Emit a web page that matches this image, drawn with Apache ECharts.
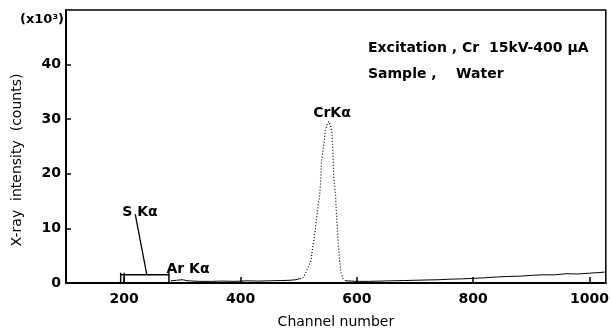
<!DOCTYPE html>
<html lang="en" style="height: 100%">
<head>
  <meta charset="utf-8">
</head>
<body style="height: 100%; margin: 0; background: #fff;">
  <div id="container" style="width: 612px; height: 334px;"></div>
  <script type="text/javascript" src="https://cdn.jsdelivr.net/npm/echarts@6/dist/echarts.min.js"></script>
  <script type="text/javascript">
    // channel numbers and counts (x10^3)
    var bgLeftCh = [280, 290, 300, 310, 330, 350, 370, 390, 410, 430, 450, 470, 485, 495, 502];
    var bgLeftCt = [0.4, 0.5, 0.6, 0.4, 0.3, 0.3, 0.35, 0.3, 0.4, 0.35, 0.4, 0.45, 0.5, 0.6, 0.8];

    var peakCh = [502, 507, 512, 516, 521, 525, 529, 532, 536, 538, 539, 541, 544, 546, 549, 552, 555, 556.7, 557.8, 558.9, 559.5, 560.6, 563.5, 564.7, 566.4, 568.1, 570.3, 573.2, 576, 581];
    var peakCt = [0.8, 0.9, 1.8, 2.8, 4.1, 7.1, 10.1, 13.0, 16.0, 19.0, 21.9, 23.7, 26.1, 27.9, 29.1, 29.6, 28.7, 27.9, 26.1, 24.3, 21.9, 19.0, 16.0, 13.0, 10.1, 7.1, 4.1, 1.8, 0.8, 0.4];

    var bgRightCh = [581, 600, 620, 640, 660, 680, 700, 720, 740, 760, 780, 800, 820, 840, 860, 880, 900, 920, 940, 960, 980, 1000, 1015, 1026];
    var bgRightCt = [0.4, 0.3, 0.3, 0.35, 0.4, 0.45, 0.5, 0.55, 0.6, 0.7, 0.75, 0.85, 0.95, 1.1, 1.2, 1.25, 1.4, 1.5, 1.5, 1.7, 1.65, 1.8, 1.9, 2.0];

    // S K-alpha window bracket and its leader line
    var bracketCh = [194, 194, 194, 200, 200, 200, 200, 277, 277, 277];
    var bracketCt = [0, 1.9, 1.5, 1.5, 1.9, 0, 1.5, 1.5, 1.9, 0];
    var leaderCh = [219, 239];
    var leaderCt = [12.6, 1.5];

    var xTicks = [200, 400, 600, 800, 1000];
    var yTicks = [0, 10, 20, 30, 40];

    function pairs(xs, ys) {
      return xs.map(function (x, i) { return [x, ys[i]]; });
    }

    var dom = document.getElementById('container');
    var myChart = echarts.init(dom, null, { renderer: 'canvas' });

    var font = '"DejaVu Sans", sans-serif';
    var option = {
      animation: false,
      backgroundColor: '#fff',
      grid: {
        left: 66, right: 5, top: 10, bottom: 44,
        show: true, borderColor: '#000', borderWidth: 1.5
      },
      xAxis: {
        type: 'value',
        min: 100,
        max: 1028,
        name: 'Channel number',
        nameLocation: 'middle',
        nameGap: 32,
        nameTextStyle: { color: '#000', fontFamily: font, fontSize: 14 },
        axisLine: { lineStyle: { color: '#000', width: 2 } },
        axisTick: { inside: true, length: 6, customValues: xTicks, lineStyle: { color: '#000', width: 1.5 } },
        axisLabel: {
          customValues: xTicks, color: '#000', fontFamily: font, fontSize: 14, fontWeight: 'bold', margin: 9,
          formatter: function (v) { return String(v); }
        },
        splitLine: { show: false }
      },
      yAxis: {
        type: 'value',
        min: 0,
        max: 50,
        axisLine: { show: true, lineStyle: { color: '#000', width: 2 } },
        axisTick: { inside: true, length: 5, customValues: yTicks, lineStyle: { color: '#000', width: 1.5 } },
        axisLabel: { customValues: yTicks, color: '#000', fontFamily: font, fontSize: 14, fontWeight: 'bold', margin: 5 },
        splitLine: { show: false }
      },
      series: [
        {
          type: 'line', data: pairs(bgLeftCh, bgLeftCt), symbol: 'none',
          lineStyle: { color: '#000', width: 1 }
        },
        {
          type: 'line', data: pairs(peakCh, peakCt), symbol: 'none',
          lineStyle: { color: '#000', width: 1.2, type: [1, 2] }
        },
        {
          type: 'line', data: pairs(bgRightCh, bgRightCt), symbol: 'none',
          lineStyle: { color: '#000', width: 1 }
        },
        {
          type: 'line', data: pairs(bracketCh, bracketCt), symbol: 'none',
          lineStyle: { color: '#000', width: 1.5 }
        },
        {
          type: 'line', data: pairs(leaderCh, leaderCt), symbol: 'none',
          lineStyle: { color: '#000', width: 1.3 }
        }
      ],
      graphic: [
        { type: 'text', x: 17, y: 160, rotation: Math.PI / 2,
          style: { text: 'X-ray  intensity  (counts)', font: '14px ' + font, fill: '#000', textAlign: 'center', textVerticalAlign: 'middle' } },
        { type: 'text', x: 42, y: 20,
          style: { text: '(x10³)', font: 'bold 13px ' + font, fill: '#000', textAlign: 'center', textVerticalAlign: 'middle' } },
        { type: 'text', x: 368, y: 48,
          style: { text: 'Excitation , Cr  15kV-400 μA', font: 'bold 14px ' + font, fill: '#000', textAlign: 'left', textVerticalAlign: 'middle' } },
        { type: 'text', x: 368, y: 74,
          style: { text: 'Sample ,    Water', font: 'bold 14px ' + font, fill: '#000', textAlign: 'left', textVerticalAlign: 'middle' } },
        { type: 'text', x: 332, y: 113,
          style: { text: 'CrKα', font: 'bold 14px ' + font, fill: '#000', textAlign: 'center', textVerticalAlign: 'middle' } },
        { type: 'text', x: 140, y: 212,
          style: { text: 'S Kα', font: 'bold 14px ' + font, fill: '#000', textAlign: 'center', textVerticalAlign: 'middle' } },
        { type: 'text', x: 188, y: 269,
          style: { text: 'Ar Kα', font: 'bold 14px ' + font, fill: '#000', textAlign: 'center', textVerticalAlign: 'middle' } }
      ]
    };

    myChart.setOption(option);
    window.addEventListener('resize', myChart.resize);
  </script>
</body>
</html>
